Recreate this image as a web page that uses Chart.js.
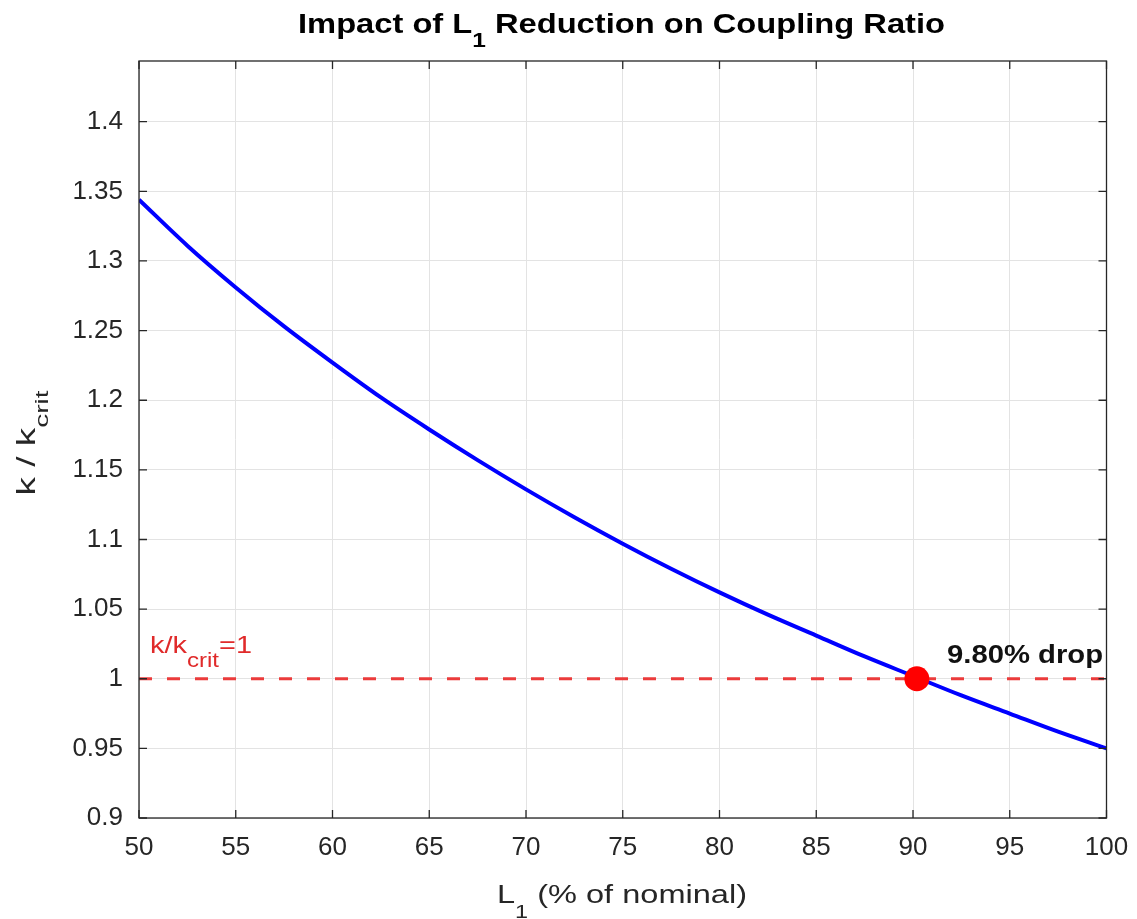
<!DOCTYPE html>
<html>
<head>
<meta charset="utf-8">
<script src="https://cdn.jsdelivr.net/npm/chart.js@4/dist/chart.umd.min.js"></script>
<style>
  html, body { margin: 0; padding: 0; background: #ffffff; }
  #wrap { width: 1137px; height: 919px; position: relative; }
</style>
</head>
<body>
<div id="wrap"><canvas id="c" width="1137" height="919"></canvas></div>
<script>
// ---- data ----
const L1_percent = [50, 52.5, 55, 57.5, 60, 62.5, 65, 67.5, 70, 72.5, 75, 77.5, 80, 82.5, 85, 87.5, 90, 92.5, 95, 97.5, 100];
const kRatio     = [1.344, 1.311, 1.281, 1.253, 1.227, 1.202, 1.179, 1.157, 1.136, 1.116, 1.097, 1.079, 1.062, 1.046, 1.031, 1.016, 1.002, 0.988, 0.975, 0.962, 0.950];
const thresholdX = [50, 100];
const thresholdY = [1, 1];
const crossingX  = [90.2];
const crossingY  = [1];
const xTicks = [50, 55, 60, 65, 70, 75, 80, 85, 90, 95, 100];
const yTicks = [0.9, 0.95, 1, 1.05, 1.1, 1.15, 1.2, 1.25, 1.3, 1.35, 1.4];
const xRange = [50, 100];
const yRange = [0.9, 1.4436];
const titleParts  = [{t: 'Impact of L'}, {t: '1', sub: true}, {t: ' Reduction on Coupling Ratio'}];
const xTitleParts = [{t: 'L'}, {t: '1', sub: true}, {t: ' (% of nominal)'}];
const yTitleParts = [{t: 'k / k'}, {t: 'crit', sub: true}];
const refLabelParts  = [{t: 'k/k'}, {t: 'crit', sub: true}, {t: '=1'}];
const dropLabelParts = [{t: '9.80% drop'}];

const FONT = "'Liberation Sans', Arial, Helvetica, sans-serif";
const AXIS_COL = '#262626';

function toXY(xs, ys) { return xs.map((x, i) => ({x: x, y: ys[i]})); }

function drawRich(ctx, parts, opt) {
  const w = opt.bold ? 'bold ' : '';
  let total = 0;
  parts.forEach(p => {
    ctx.font = w + (p.sub ? opt.subSize : opt.size) + 'px ' + FONT;
    p._w = ctx.measureText(p.t).width;
    total += p._w;
  });
  const sx = opt.width ? opt.width / total : 1;
  ctx.save();
  ctx.translate(opt.x, opt.y);
  if (opt.rotate) ctx.rotate(opt.rotate);
  let start = 0;
  if (opt.align === 'center') start = -total * sx / 2;
  ctx.translate(start, 0);
  ctx.scale(sx, 1);
  ctx.fillStyle = opt.color;
  ctx.textBaseline = 'alphabetic';
  ctx.textAlign = 'left';
  let cx = 0;
  parts.forEach(p => {
    ctx.font = w + (p.sub ? opt.subSize : opt.size) + 'px ' + FONT;
    ctx.fillText(p.t, cx, p.sub ? opt.subDy : 0);
    cx += p._w;
  });
  ctx.restore();
}

const decor = {
  id: 'decor',
  afterDraw(chart) {
    const ctx = chart.ctx;
    const a = chart.chartArea;
    const xs = chart.scales.x, ys = chart.scales.y;
    ctx.save();
    ctx.strokeStyle = AXIS_COL;
    ctx.lineWidth = 1.3;
    ctx.strokeRect(a.left, a.top, a.right - a.left, a.bottom - a.top);
    const tl = 8;
    ctx.beginPath();
    xTicks.forEach(v => {
      const px = xs.getPixelForValue(v);
      ctx.moveTo(px, a.bottom); ctx.lineTo(px, a.bottom - tl);
      ctx.moveTo(px, a.top); ctx.lineTo(px, a.top + tl);
    });
    yTicks.forEach(v => {
      const py = ys.getPixelForValue(v);
      ctx.moveTo(a.left, py); ctx.lineTo(a.left + tl, py);
      ctx.moveTo(a.right, py); ctx.lineTo(a.right - tl, py);
    });
    ctx.stroke();
    ctx.restore();

    drawRich(ctx, titleParts, {x: 298, y: 33, size: 28, subSize: 21, subDy: 14, bold: true, color: '#000000', width: 647});
    drawRich(ctx, xTitleParts, {x: 497, y: 903, size: 25, subSize: 18, subDy: 15, bold: false, color: AXIS_COL, width: 250});
    drawRich(ctx, yTitleParts, {x: 35, y: 443, size: 25, subSize: 19, subDy: 13, bold: false, color: AXIS_COL, width: 105, rotate: -Math.PI / 2, align: 'center'});
    drawRich(ctx, refLabelParts, {x: 150, y: 653, size: 24, subSize: 20, subDy: 14, bold: false, color: '#e02a2a', width: 102});
    drawRich(ctx, dropLabelParts, {x: 947, y: 663, size: 26, bold: true, color: '#111111', width: 156});
  }
};

new Chart(document.getElementById('c'), {
  type: 'line',
  data: {
    datasets: [
      {
        label: 'crossing',
        data: toXY(crossingX, crossingY),
        showLine: false,
        pointRadius: 12.5,
        pointHoverRadius: 12.5,
        pointBackgroundColor: '#ff0000',
        pointBorderColor: '#ff0000',
        pointBorderWidth: 0,
        order: 0
      },
      {
        label: 'k/kcrit',
        data: toXY(L1_percent, kRatio),
        borderColor: '#0000ff',
        borderWidth: 4,
        pointRadius: 0,
        cubicInterpolationMode: 'monotone',
        fill: false,
        order: 1
      },
      {
        label: 'threshold',
        data: toXY(thresholdX, thresholdY),
        borderColor: '#eb3b3b',
        borderWidth: 3,
        borderDash: [13, 15],
        pointRadius: 0,
        fill: false,
        order: 2
      }
    ]
  },
  options: {
    responsive: false,
    animation: false,
    events: [],
    layout: { padding: { top: 61, right: 30.5, left: 0, bottom: 0 } },
    plugins: { legend: { display: false }, tooltip: { enabled: false }, title: { display: false } },
    scales: {
      x: {
        type: 'linear',
        min: xRange[0], max: xRange[1],
        afterFit(s) { s.height = 101; s.paddingLeft = 0; s.paddingRight = 0; },
        afterBuildTicks(s) { s.ticks = xTicks.map(v => ({value: v})); },
        grid: { color: '#e3e3e3', lineWidth: 1, drawTicks: false },
        border: { display: false },
        ticks: {
          color: AXIS_COL,
          font: { family: FONT, size: 26 },
          padding: 14,
          maxRotation: 0,
          autoSkip: false,
          callback: v => String(v)
        }
      },
      y: {
        type: 'linear',
        min: yRange[0], max: yRange[1],
        afterFit(s) { s.width = 139; s.paddingTop = 0; s.paddingBottom = 0; },
        afterBuildTicks(s) { s.ticks = yTicks.map(v => ({value: v})); },
        grid: { color: '#e3e3e3', lineWidth: 1, drawTicks: false },
        border: { display: false },
        ticks: {
          color: AXIS_COL,
          font: { family: FONT, size: 26 },
          padding: 16,
          autoSkip: false,
          callback: v => String(Number(v.toFixed(2)))
        }
      }
    }
  },
  plugins: [decor]
});
</script>
</body>
</html>
